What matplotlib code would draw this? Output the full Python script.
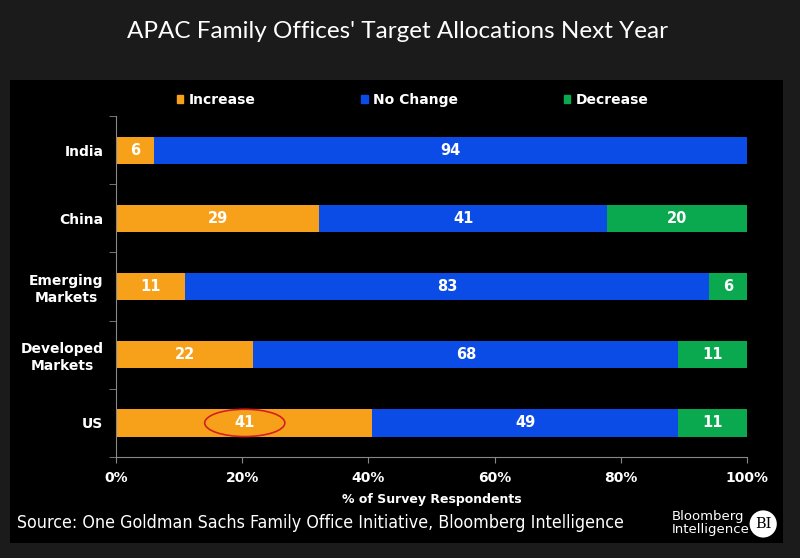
import numpy as np
import matplotlib.pyplot as plt
from matplotlib.patches import Patch, Ellipse, Rectangle

# Dados
categorias = ['India', 'China', 'Emerging\nMarkets', 'Developed\nMarkets', 'US']
aumento = [6, 29, 11, 22, 41]
sem_mudanca = [94, 41, 83, 68, 49]
reducao = [0, 20, 6, 11, 11]
ticks_x = [0, 20, 40, 60, 80, 100]

cor_aum = '#F7A11B'
cor_sem = '#0B4BE6'
cor_red = '#0AA84F'

# Normaliza para 100%
tab = np.array([aumento, sem_mudanca, reducao], dtype=float)
pct = tab / tab.sum(axis=0) * 100

fig = plt.figure(figsize=(8, 5.58), dpi=100, facecolor='#1b1b1b')
fig.patches.append(Rectangle((0.0125, 0.027), 0.966, 0.830, transform=fig.transFigure,
                             facecolor='black', edgecolor='none', zorder=-10))

ax = fig.add_axes([0.145, 0.181, 0.789, 0.611])
ax.set_facecolor('black')

y = np.arange(len(categorias))
esq = np.zeros(len(categorias))
for vals, p, cor in zip(tab, pct, [cor_aum, cor_sem, cor_red]):
    ax.barh(y, p, left=esq, height=0.4, color=cor, zorder=2)
    for i in range(len(categorias)):
        if vals[i] > 0:
            ax.text(esq[i] + p[i] / 2, y[i], f'{int(vals[i])}', ha='center', va='center',
                    color='white', fontsize=10.5, fontweight='bold', zorder=3)
    esq += p

ax.set_xlim(0, 100)
ax.set_ylim(len(categorias) - 0.5, -0.5)
ax.set_yticks(y)
ax.set_yticklabels(categorias, color='white', fontsize=10, fontweight='bold', linespacing=1.25,
                   multialignment='center')
ax.set_yticks(np.arange(-0.5, len(categorias)), minor=True)
ax.tick_params(axis='y', which='major', length=0, pad=9)
ax.tick_params(axis='y', which='minor', length=5, color='#888888', direction='out')
ax.set_xticks(ticks_x)
ax.set_xticklabels([f'{t}%' for t in ticks_x], color='white', fontsize=10, fontweight='bold')
ax.tick_params(axis='x', length=4, color='#888888', pad=6)
ax.set_xlabel('% of Survey Respondents', color='white', fontsize=9, fontweight='bold', labelpad=6)

for s in ['top', 'right']:
    ax.spines[s].set_visible(False)
for s in ['left', 'bottom']:
    ax.spines[s].set_color('#888888')

# Destaque em vermelho
ax.add_patch(Ellipse((20.4, 4), 12.7, 0.4, facecolor='none', edgecolor='#D42020', lw=1.2, zorder=4))

# Legenda
handles = [Patch(color=cor_aum, label='Increase'), Patch(color=cor_sem, label='No Change'),
           Patch(color=cor_red, label='Decrease')]
leg = fig.legend(handles=handles, ncol=3, loc='center', bbox_to_anchor=(0.516, 0.821),
                 frameon=False, handlelength=0.45, handleheight=0.45, handletextpad=0.4,
                 columnspacing=7.6, prop={'weight': 'bold', 'size': 10})
for t in leg.get_texts():
    t.set_color('white')

# Títulos e rodapé
fig.text(0.497, 0.943, "APAC Family Offices' Target Allocations Next Year", ha='center', va='center',
         color='white', fontsize=17.5, family='Lato')
fig.text(0.021, 0.062, 'Source: One Goldman Sachs Family Office Initiative, Bloomberg Intelligence',
         ha='left', va='center', color='white', fontsize=12.8, fontstretch='condensed')
fig.text(0.84, 0.062, 'Bloomberg\nIntelligence', ha='left', va='center', color='white',
         fontsize=9.5, linespacing=1.0, fontweight='medium')
fig.patches.append(Ellipse((0.954, 0.061), 0.034, 0.034 * 800 / 558, transform=fig.transFigure,
                           facecolor='white', edgecolor='none', zorder=1))
fig.text(0.954, 0.061, 'BI', ha='center', va='center', color='black', fontsize=10.5,
         family='DejaVu Serif', zorder=5)

plt.savefig('out.png', dpi=100, facecolor=fig.get_facecolor())
